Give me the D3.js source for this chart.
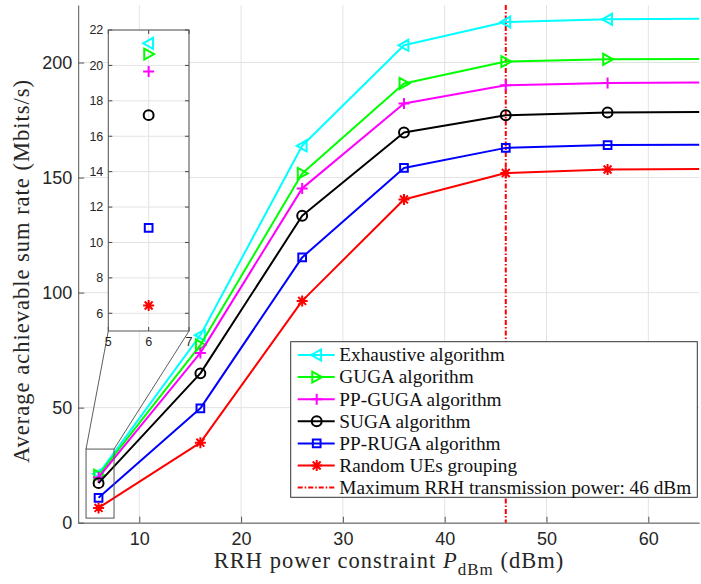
<!DOCTYPE html>
<html><head><meta charset="utf-8">
<script src="https://cdn.jsdelivr.net/npm/d3@7"></script>
<style>body{margin:0;background:#fff}svg{display:block}</style>
</head><body>
<script>
// ---------- data ----------
const powerDbm = [6, 16, 26, 36, 46, 56, 66];
const exhaustive = [21.25, 81.5, 163.8, 207.5, 217.6, 218.8, 219.0];
const guga       = [20.64, 77.2, 151.8, 190.9, 200.4, 201.4, 201.6];
const ppGuga     = [19.66, 73.8, 145.3, 182.2, 190.1, 191.1, 191.3];
const suga       = [17.19, 64.9, 133.4, 169.6, 177.1, 178.3, 178.5];
const ppRuga     = [10.82, 49.7, 115.3, 154.2, 162.9, 164.1, 164.3];
const randomUE   = [6.44, 34.8, 96.4, 140.5, 152.0, 153.5, 153.7];
const seriesNames = ["Exhaustive algorithm","GUGA algorithm","PP-GUGA algorithm","SUGA algorithm","PP-RUGA algorithm","Random UEs grouping"];
const seriesColors = ["#00ffff","#00ff00","#ff00ff","#000000","#0000ff","#ff0000"];
const seriesMarkers = ["triLeft","triRight","plus","circle","square","star"];
const maxPowerDbm = 46;
const maxPowerLabel = "Maximum RRH transmission power: 46 dBm";
const xTicks = [10, 20, 30, 40, 50, 60];
const yTicks = [0, 50, 100, 150, 200];
const insetXTicks = [5, 6, 7];
const insetYTicks = [6, 8, 10, 12, 14, 16, 18, 20, 22];
const zoomRectX = [4.77, 7.52];
const zoomRectY = [2, 32];

const allSeries = [exhaustive, guga, ppGuga, suga, ppRuga, randomUE];

// ---------- layout ----------
const W = 701, H = 584;
const L = 78.2, R = 699.2, T = 5, B = 522.7;
const svg = d3.select("body").append("svg").attr("width", W).attr("height", H);
const x = d3.scaleLinear().domain([4, 65]).range([L, R]);
const y = d3.scaleLinear().domain([0, 225]).range([B, T]);
const tickFont = "'Liberation Sans', Arial, sans-serif";
const serif = "'Liberation Serif', 'Times New Roman', serif";

svg.append("defs").append("clipPath").attr("id","plotclip")
  .append("rect").attr("x", L).attr("y", T).attr("width", R - L).attr("height", B - T);

// grid
const grid = svg.append("g");
grid.selectAll(".gx").data(xTicks).join("line")
  .attr("x1", d => x(d)).attr("x2", d => x(d)).attr("y1", T).attr("y2", B)
  .attr("stroke", "#e3e3e3").attr("stroke-width", 1);
grid.selectAll(".gy").data(yTicks).join("line")
  .attr("x1", L).attr("x2", R).attr("y1", d => y(d)).attr("y2", d => y(d))
  .attr("stroke", "#e3e3e3").attr("stroke-width", 1);

// axes
const xAxis = svg.append("g").attr("transform", `translate(0,${B})`)
  .call(d3.axisBottom(x).tickValues(xTicks).tickSizeInner(-6).tickSizeOuter(0).tickPadding(10));
const yAxis = svg.append("g").attr("transform", `translate(${L},0)`)
  .call(d3.axisLeft(y).tickValues(yTicks).tickSizeInner(-6).tickSizeOuter(0).tickPadding(6));
[xAxis, yAxis].forEach(a => {
  a.select(".domain").attr("stroke", "#555").attr("stroke-width", 1);
  a.selectAll(".tick line").attr("stroke", "#555");
  a.selectAll("text").attr("font-family", tickFont).attr("font-size", 18).attr("fill", "#262626");
});

// marker path generator
function markerPath(type, s) {
  const h = s / 2;
  switch (type) {
    case "triLeft": return `M${-h},0L${h*0.8},${-h}L${h*0.8},${h}Z`;
    case "triRight": return `M${h},0L${-h*0.8},${-h}L${-h*0.8},${h}Z`;
    case "plus": return `M${-h},0L${h},0M0,${-h}L0,${h}`;
    case "circle": return `M${h*0.9},0A${h*0.9},${h*0.9} 0 1,1 ${-h*0.9},0A${h*0.9},${h*0.9} 0 1,1 ${h*0.9},0Z`;
    case "square": return `M${-h*0.7},${-h*0.7}H${h*0.7}V${h*0.7}H${-h*0.7}Z`;
    case "star": { const d = h*0.72; return `M${-h},0L${h},0M0,${-h}L0,${h}M${-d},${-d}L${d},${d}M${-d},${d}L${d},${-d}`; }
  }
}

// vertical max power line
svg.append("line").attr("x1", x(maxPowerDbm)).attr("x2", x(maxPowerDbm)).attr("y1", T).attr("y2", B)
  .attr("stroke", "#ff0000").attr("stroke-width", 2).attr("stroke-dasharray", "5,2,1.5,2");

// series
const plot = svg.append("g").attr("clip-path", "url(#plotclip)");
const line = d3.line().x((d, i) => x(powerDbm[i])).y(d => y(d));
allSeries.forEach((vals, k) => {
  plot.append("path").attr("d", line(vals)).attr("fill", "none")
    .attr("stroke", seriesColors[k]).attr("stroke-width", 2).attr("stroke-linejoin", "round");
  plot.selectAll(null).data(vals).join("path")
    .attr("transform", (d, i) => `translate(${x(powerDbm[i])},${y(d)})`)
    .attr("d", markerPath(seriesMarkers[k], 11))
    .attr("fill", "none").attr("stroke", seriesColors[k]).attr("stroke-width", 2);
});

// zoom rectangle + connectors
const IL = 108.3, IR = 189, IT = 30, IB = 331;
svg.append("rect").attr("x", x(zoomRectX[0])).attr("y", y(zoomRectY[1]))
  .attr("width", x(zoomRectX[1]) - x(zoomRectX[0])).attr("height", y(zoomRectY[0]) - y(zoomRectY[1]))
  .attr("fill", "none").attr("stroke", "#555").attr("stroke-width", 1);
svg.append("line").attr("x1", x(zoomRectX[0])).attr("y1", y(zoomRectY[1])).attr("x2", IL).attr("y2", IB)
  .attr("stroke", "#333").attr("stroke-width", 0.8);
svg.append("line").attr("x1", x(zoomRectX[1])).attr("y1", y(zoomRectY[1])).attr("x2", IR).attr("y2", IB)
  .attr("stroke", "#333").attr("stroke-width", 0.8);

// inset
const ix = d3.scaleLinear().domain([5, 7]).range([IL, IR]);
const iy = d3.scaleLinear().domain([5, 22]).range([IB, IT]);
const inset = svg.append("g");
inset.append("rect").attr("x", IL).attr("y", IT).attr("width", IR - IL).attr("height", IB - IT).attr("fill", "#fff");
inset.selectAll(".igx").data(insetXTicks).join("line")
  .attr("x1", d => ix(d)).attr("x2", d => ix(d)).attr("y1", IT).attr("y2", IB).attr("stroke", "#e3e3e3");
inset.selectAll(".igy").data(insetYTicks).join("line")
  .attr("x1", IL).attr("x2", IR).attr("y1", d => iy(d)).attr("y2", d => iy(d)).attr("stroke", "#e3e3e3");
// ticks both sides
inset.selectAll(".itl").data(insetYTicks).join("path")
  .attr("d", d => `M${IL},${iy(d)}h4M${IR},${iy(d)}h-4`).attr("stroke", "#444");
inset.selectAll(".itx").data(insetXTicks).join("path")
  .attr("d", d => `M${ix(d)},${IB}v-4M${ix(d)},${IT}v4`).attr("stroke", "#444");
inset.append("rect").attr("x", IL).attr("y", IT).attr("width", IR - IL).attr("height", IB - IT)
  .attr("fill", "none").attr("stroke", "#555").attr("stroke-width", 1);
inset.selectAll(".ily").data(insetYTicks).join("text")
  .attr("x", IL - 5).attr("y", d => iy(d)).attr("dy", "0.35em").attr("text-anchor", "end")
  .attr("font-family", tickFont).attr("font-size", 12.5).attr("fill", "#262626").text(d => d);
inset.selectAll(".ilx").data(insetXTicks).join("text")
  .attr("x", d => ix(d)).attr("y", IB + 6).attr("dy", "0.71em").attr("text-anchor", "middle")
  .attr("font-family", tickFont).attr("font-size", 12.5).attr("fill", "#262626").text(d => d);
allSeries.forEach((vals, k) => {
  inset.append("path").attr("transform", `translate(${ix(powerDbm[0])},${iy(vals[0])})`)
    .attr("d", markerPath(seriesMarkers[k], 11))
    .attr("fill", "none").attr("stroke", seriesColors[k]).attr("stroke-width", 2);
});

// legend
const LX = 290.7, LY = 341.7, LW = 406.6, LH = 155.6, rowH = 22.1;
const leg = svg.append("g");
leg.append("rect").attr("x", LX).attr("y", LY).attr("width", LW).attr("height", LH)
  .attr("fill", "#fff").attr("stroke", "#333").attr("stroke-width", 1);
const legItems = seriesNames.map((n, i) => ({name: n, color: seriesColors[i], marker: seriesMarkers[i]}))
  .concat([{name: maxPowerLabel, color: "#ff0000", marker: null, dash: "5,2,1.5,2"}]);
legItems.forEach((it, i) => {
  const cy = LY + 13.3 + i * rowH;
  leg.append("line").attr("x1", LX + 7).attr("x2", LX + 44).attr("y1", cy).attr("y2", cy)
    .attr("stroke", it.color).attr("stroke-width", 2).attr("stroke-dasharray", it.dash || null);
  if (it.marker) leg.append("path").attr("transform", `translate(${LX + 26},${cy})`)
    .attr("d", markerPath(it.marker, 11)).attr("fill", "none").attr("stroke", it.color).attr("stroke-width", 2);
  leg.append("text").attr("x", LX + 48.6).attr("y", cy).attr("dy", "0.33em")
    .attr("font-family", serif).attr("font-size", 19.3).attr("fill", "#111").text(it.name);
});

// axis labels
const xl = svg.append("text").attr("x", 389).attr("y", 568).attr("text-anchor", "middle")
  .attr("font-family", serif).attr("font-size", 22.5).attr("letter-spacing", 1).attr("fill", "#262626");
xl.append("tspan").text("RRH power constraint ");
xl.append("tspan").attr("font-style", "italic").text("P");
xl.append("tspan").attr("dy", 7).attr("font-size", 17).text("dBm");
xl.append("tspan").attr("dy", -7).text(" (dBm)");

svg.append("text").attr("transform", `translate(29,271) rotate(-90)`)
  .attr("text-anchor", "middle").attr("font-family", serif).attr("font-size", 22.5)
  .attr("letter-spacing", 1).attr("fill", "#262626")
  .text("Average achievable sum rate (Mbits/s)");
</script>
</body></html>
